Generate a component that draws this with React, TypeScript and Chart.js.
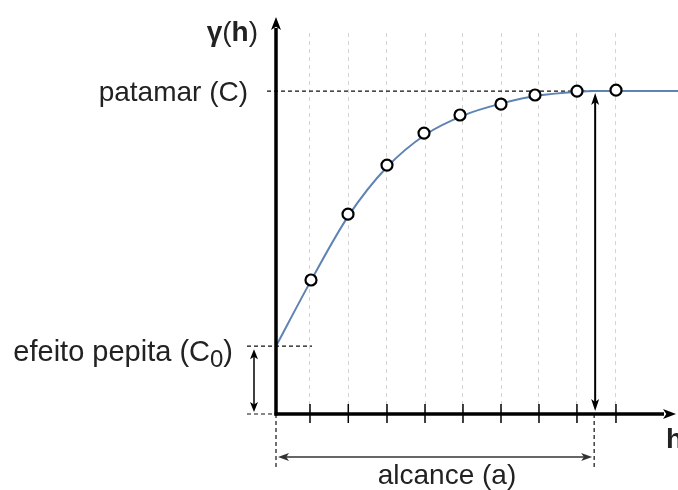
import { useEffect, useRef } from "react";
import { Chart, registerables } from "chart.js";

Chart.register(...registerables);

// Experimental variogram points (lag h, gamma)
const lagH = [0.914, 1.881, 2.899, 3.866, 4.806, 5.877, 6.765, 7.862, 8.881];
const gammaExp = [0.415, 0.619, 0.771, 0.87, 0.926, 0.96, 0.988, 1.0, 1.003];
// Lag tick positions on h axis
const tickH = [0.888, 1.888, 2.899, 3.892, 4.884, 5.877, 6.869, 7.861, 8.88];
// Model curve
const curveH = [0, 0.9, 1.9, 2.9, 3.9, 4.9, 5.9, 6.9, 7.9, 8.31, 10.5];
const curveGamma = [0.21, 0.41, 0.615, 0.765, 0.865, 0.925, 0.962, 0.987, 0.998, 1.0, 1.0];
// Model parameters
const nugget = 0.21;
const sill = 1.0;
const range = 8.31;

const FONT = '"Liberation Sans", Arial, sans-serif';
const TXT = "#222";

function line(ctx: CanvasRenderingContext2D, x1: number, y1: number, x2: number, y2: number) {
  ctx.beginPath();
  ctx.moveTo(x1, y1);
  ctx.lineTo(x2, y2);
  ctx.stroke();
}

function head(ctx: CanvasRenderingContext2D, x: number, y: number, dx: number, dy: number, len: number, w: number) {
  const px = -dy, py = dx;
  ctx.beginPath();
  ctx.moveTo(x, y);
  ctx.lineTo(x - dx * len + px * w / 2, y - dy * len + py * w / 2);
  ctx.lineTo(x - dx * len * 0.75, y - dy * len * 0.75);
  ctx.lineTo(x - dx * len - px * w / 2, y - dy * len - py * w / 2);
  ctx.closePath();
  ctx.fill();
}

const annot = {
  id: "annot",
  beforeDatasetsDraw(chart: any) {
    const ctx: CanvasRenderingContext2D = chart.ctx;
    const xs = chart.scales.x, ys = chart.scales.y;
    const x0 = xs.getPixelForValue(0), y0 = ys.getPixelForValue(0);
    const yS = ys.getPixelForValue(sill), yN = ys.getPixelForValue(nugget);
    const xR = xs.getPixelForValue(range);
    ctx.save();
    ctx.strokeStyle = "#111";
    ctx.lineWidth = 1.2;
    ctx.setLineDash([4, 3]);
    line(ctx, x0 - 9, yS, xR, yS);
    line(ctx, x0 - 29, yN, x0 + 36, yN);
    line(ctx, x0 - 29, y0, x0, y0);
    line(ctx, x0, y0, x0, y0 + 53);
    line(ctx, xR, y0, xR, y0 + 56);
    ctx.setLineDash([]);
    ctx.restore();
  },
  afterDraw(chart: any) {
    const ctx: CanvasRenderingContext2D = chart.ctx;
    const xs = chart.scales.x, ys = chart.scales.y;
    const x0 = xs.getPixelForValue(0), y0 = ys.getPixelForValue(0);
    const yS = ys.getPixelForValue(sill), yN = ys.getPixelForValue(nugget);
    const xR = xs.getPixelForValue(range);
    ctx.save();
    ctx.strokeStyle = "#000";
    ctx.fillStyle = "#000";
    // axes
    ctx.lineWidth = 3.5;
    line(ctx, x0, y0 + 1.5, x0, 28);
    head(ctx, x0, 17, 0, -1, 13, 10);
    line(ctx, x0 - 1.5, y0, 664, y0);
    head(ctx, 676, y0, 1, 0, 13, 10);
    // ticks
    ctx.lineWidth = 1.5;
    for (const t of tickH) {
      const px = xs.getPixelForValue(t);
      line(ctx, px, y0 - 10, px, y0 + 9);
    }
    // range vertical double arrow
    ctx.lineWidth = 2;
    line(ctx, xR + 1, yS + 10, xR + 1, y0 - 12);
    head(ctx, xR + 1, yS + 2, 0, -1, 12, 8);
    head(ctx, xR + 1, y0 - 3, 0, 1, 12, 8);
    // nugget double arrow
    ctx.lineWidth = 1.5;
    const xa = x0 - 22;
    line(ctx, xa, yN + 8, xa, y0 - 8);
    head(ctx, xa, yN + 3, 0, -1, 10, 8);
    head(ctx, xa, y0 - 2, 0, 1, 10, 8);
    // range horizontal double arrow
    ctx.strokeStyle = "#333";
    ctx.fillStyle = "#333";
    const ya = y0 + 43;
    line(ctx, x0 + 8, ya, xR - 8, ya);
    head(ctx, x0 + 2, ya, -1, 0, 11, 8);
    head(ctx, xR - 2, ya, 1, 0, 11, 8);

    // texts
    ctx.fillStyle = TXT;
    ctx.textBaseline = "alphabetic";
    const fN = `28px ${FONT}`, fB = `bold 28px ${FONT}`;
    // gamma(h)
    ctx.font = fB;
    const w1a = ctx.measureText("γ").width;
    ctx.font = fN;
    const w1b = ctx.measureText("(").width;
    const w3 = ctx.measureText(")").width;
    ctx.font = fB;
    const w2 = ctx.measureText("h").width;
    let sx = 258 - (w1a + w1b + w2 + w3);
    ctx.textAlign = "left";
    ctx.font = fB;
    ctx.fillText("γ", sx, 41);
    ctx.font = fN;
    ctx.fillText("(", sx + w1a, 41);
    ctx.font = fB;
    ctx.fillText("h", sx + w1a + w1b, 41);
    ctx.font = fN;
    ctx.fillText(")", sx + w1a + w1b + w2, 41);
    // patamar
    ctx.textAlign = "right";
    ctx.fillText("patamar (C)", 248, yS + 10);
    // efeito pepita
    const fM = `29px ${FONT}`;
    const fS = `24px ${FONT}`;
    ctx.font = fM;
    const wa = ctx.measureText("efeito pepita (C").width;
    const wc = ctx.measureText(")").width;
    ctx.font = fS;
    const wb = ctx.measureText("0").width;
    sx = 233 - (wa + wb + wc);
    ctx.textAlign = "left";
    ctx.font = fM;
    ctx.fillText("efeito pepita (C", sx, yN + 15);
    ctx.font = fS;
    ctx.fillText("0", sx + wa, yN + 21);
    ctx.font = fM;
    ctx.fillText(")", sx + wa + wb, yN + 15);
    // alcance
    ctx.font = fN;
    ctx.textAlign = "center";
    ctx.fillText("alcance (a)", 447, 484);
    // h
    ctx.textAlign = "left";
    ctx.font = fB;
    ctx.fillText("h", 666, 448);
    ctx.restore();
  },
};

export default function App() {
  const ref = useRef<HTMLCanvasElement>(null);
  useEffect(() => {
    if (!ref.current) return;
    const chart = new Chart(ref.current, {
      type: "scatter",
      data: {
        datasets: [
          {
            type: "scatter",
            data: lagH.map((h, i) => ({ x: h, y: gammaExp[i] })),
            pointRadius: 5.5,
            pointBackgroundColor: "#fff",
            pointBorderColor: "#000",
            pointBorderWidth: 2.2,
            showLine: false,
            clip: false,
            order: 0,
          },
          {
            type: "line",
            data: curveH.map((h, i) => ({ x: h, y: curveGamma[i] })),
            borderColor: "#5f83b2",
            borderWidth: 2,
            pointRadius: 0,
            cubicInterpolationMode: "monotone",
            fill: false,
            order: 1,
          } as any,
        ],
      },
      options: {
        responsive: false,
        animation: false,
        layout: { autoPadding: false, padding: { left: 276, top: 33, right: 0, bottom: 76 } },
        plugins: { legend: { display: false }, tooltip: { enabled: false } },
        scales: {
          x: {
            type: "linear",
            min: 0,
            max: 10.5,
            afterBuildTicks: (s: any) => {
              s.ticks = tickH.map((v) => ({ value: v }));
            },
            afterFit: (s: any) => {
              s.height = 0;
              s.paddingLeft = 0;
              s.paddingRight = 0;
            },
            ticks: { display: false },
            grid: { color: "#d4d4d4", lineWidth: 1, drawTicks: false },
            border: { display: false, dash: [4, 4] },
          },
          y: {
            type: "linear",
            min: 0,
            max: 1.18,
            display: false,
          },
        },
      },
      plugins: [annot],
    });
    return () => chart.destroy();
  }, []);
  return (
    <div style={{ position: "absolute", left: 0, top: 0, width: 678, height: 490, background: "#fff" }}>
      <canvas ref={ref} width={678} height={490} style={{ display: "block" }} />
    </div>
  );
}
